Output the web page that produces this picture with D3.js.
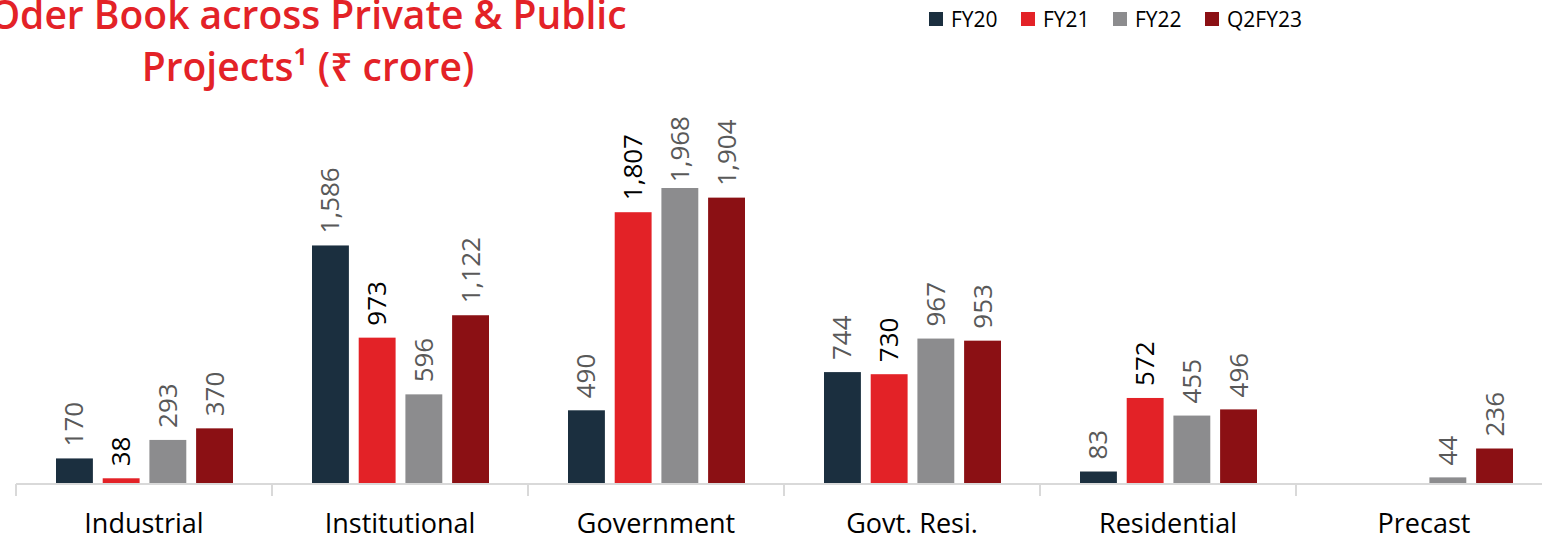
<!DOCTYPE html>
<html>
<head>
<meta charset="utf-8">
<script src="https://cdn.jsdelivr.net/npm/d3@7"></script>
<style>
  body { margin: 0; background: #fff; }
  svg { display: block; font-family: "Open Sans", "Noto Sans", sans-serif; }
</style>
</head>
<body>
<svg id="drawing_region"></svg>
<script>
const categories = ['Industrial', 'Institutional', 'Government', 'Govt. Resi.', 'Residential', 'Precast'];
const seriesNames = ['FY20', 'FY21', 'FY22', 'Q2FY23'];
const fy20 = [170, 1586, 490, 744, 83, null];
const fy21 = [38, 973, 1807, 730, 572, null];
const fy22 = [293, 596, 1968, 967, 455, 44];
const q2fy23 = [370, 1122, 1904, 953, 496, 236];
const seriesColors = ['#1b2f3f', '#e32227', '#8c8c8e', '#8b1014'];
const labelColors = ['#595959', '#000000', '#595959', '#595959'];

const values = [fy20, fy21, fy22, q2fy23];
const data = categories.map((c, i) => ({
    category: c,
    items: seriesNames.map((s, j) => ({ key: s, idx: j, value: values[j][i] }))
}));

const config = {
    width: 1542,
    height: 537,
    axisY: 484,
    plotTop: 116
};

const svg = d3.select('#drawing_region')
    .attr('width', config.width)
    .attr('height', config.height);

// title (first line runs off the left edge, as in the source slide)
const title = svg.append('g').attr('fill', '#e32227')
    .attr('font-weight', 600)
    .attr('font-size', '39px')
    .attr('text-anchor', 'middle');
title.append('text').attr('x', 308).attr('y', 29).text('Oder Book across Private & Public');
title.append('text').attr('x', 308).attr('y', 81).text('Projects¹ (₹ crore)');

// scales
const x0 = d3.scaleBand()
    .domain(categories)
    .range([16, 16 + 256 * categories.length])
    .padding(0);

const x1 = d3.scaleBand()
    .domain(seriesNames)
    .range([40, 217])
    .paddingInner(0.21)
    .paddingOuter(0);

const y = d3.scaleLinear()
    .domain([0, 2500])
    .range([config.axisY, config.axisY - 2500 * 296 / 1968]);

const color = d3.scaleOrdinal().domain(seriesNames).range(seriesColors);

// x axis
const xaxis = d3.axisBottom(x0).tickSize(0).tickPadding(0).tickFormat('');
const axisG = svg.append('g')
    .attr('transform', `translate(0, ${config.axisY})`)
    .call(xaxis);
axisG.select('.domain').attr('stroke', '#d9d9d9').attr('stroke-width', 2)
    .attr('d', `M${x0.range()[0]},0H${x0.range()[1]}`);
axisG.selectAll('.tick').remove();

const tickPos = d3.range(categories.length + 1).map(i => x0.range()[0] + i * x0.step());
svg.append('g').selectAll('line')
    .data(tickPos)
    .join('line')
    .attr('x1', d => d).attr('x2', d => d)
    .attr('y1', config.axisY).attr('y2', config.axisY + 12)
    .attr('stroke', '#d9d9d9').attr('stroke-width', 2);

svg.append('g').selectAll('text')
    .data(categories)
    .join('text')
    .attr('x', d => x0(d) + x0.bandwidth() / 2)
    .attr('y', 533)
    .attr('text-anchor', 'middle')
    .attr('font-size', '27px')
    .attr('fill', '#000')
    .text(d => d);

// bars
const groups = svg.append('g').selectAll('g')
    .data(data)
    .join('g')
    .attr('transform', d => `translate(${x0(d.category)}, 0)`);

groups.selectAll('rect')
    .data(d => d.items.filter(e => e.value != null))
    .join('rect')
    .attr('x', d => x1(d.key))
    .attr('width', x1.bandwidth())
    .attr('y', d => y(d.value))
    .attr('height', d => config.axisY - 1 - y(d.value))
    .attr('fill', d => color(d.key));

// labels
const fmt = d3.format(',');
groups.selectAll('text')
    .data(d => d.items.filter(e => e.value != null))
    .join('text')
    .attr('font-size', '26px')
    .attr('fill', d => labelColors[d.idx])
    .attr('text-anchor', 'start')
    .text(d => fmt(d.value))
    .each(function (d) {
        const len = this.getComputedTextLength();
        let start = y(d.value) - 12;
        if (start - len < config.plotTop) start = config.plotTop + len;
        const cx = x1(d.key) + x1.bandwidth() / 2;
        d3.select(this)
            .attr('transform', `translate(${cx + 9}, ${start}) rotate(-90)`);
    });

// legend
const legend = svg.append('g').selectAll('g')
    .data(seriesNames)
    .join('g')
    .attr('transform', (d, i) => `translate(${929 + i * 92}, 12)`);
legend.append('rect')
    .attr('width', 14).attr('height', 14)
    .attr('fill', d => color(d));
legend.append('text')
    .attr('x', 22).attr('y', 15)
    .attr('font-size', '21px')
    .attr('fill', '#000')
    .text(d => d);
</script>
</body>
</html>
